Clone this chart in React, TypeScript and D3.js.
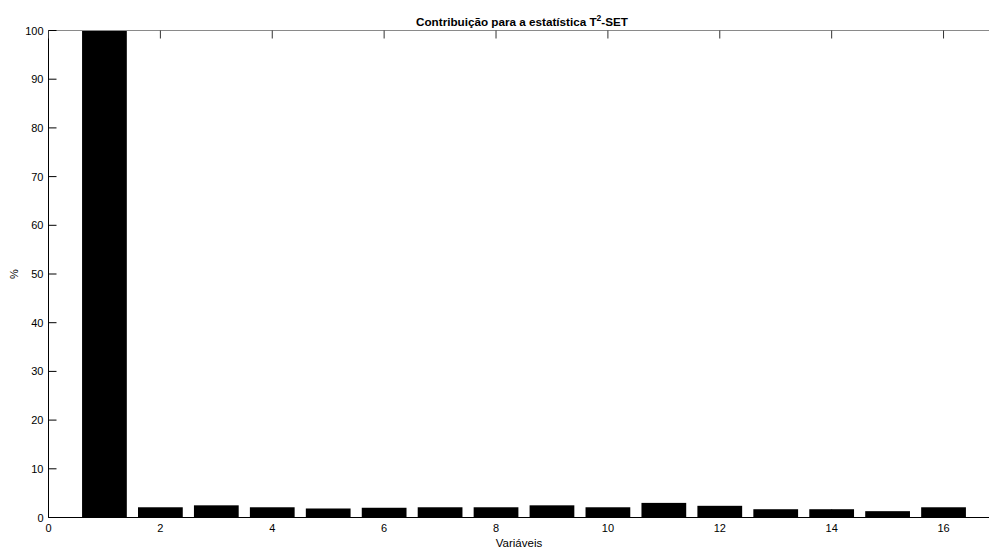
import React from "react";
import * as d3 from "d3";

// Percentage contribution of each variable to the T²-SET statistic
const variables = [1, 2, 3, 4, 5, 6, 7, 8, 9, 10, 11, 12, 13, 14, 15, 16];
const contributions = [100, 2.1, 2.5, 2.1, 1.85, 2.0, 2.1, 2.1, 2.5, 2.1, 3.0, 2.4, 1.7, 1.7, 1.3, 2.1];
const xTicks = [0, 2, 4, 6, 8, 10, 12, 14, 16];
const yTicks = [0, 10, 20, 30, 40, 50, 60, 70, 80, 90, 100];

const W = 989;
const H = 549;
const left = 48.5;
const top = 30.5;
const bottom = 517.5;
const font = "Arial, 'Liberation Sans', Helvetica, sans-serif";

export default function App() {
  const x = d3.scaleLinear().domain([0, 17]).range([left, left + 17 * 55.94]);
  const y = d3.scaleLinear().domain([0, 100]).range([bottom, top]);
  const barW = x(0.8) - x(0);
  const tickLen = 8;

  return (
    <svg
      width={W}
      height={H}
      style={{ position: "absolute", left: 0, top: 0, background: "#fff", overflow: "hidden" }}
      fontFamily={font}
    >
      <rect x={0} y={0} width={W} height={H} fill="#fff" />
      {/* bars */}
      {variables.map((v, i) => (
        <rect
          key={v}
          x={x(v) - barW / 2}
          y={y(contributions[i])}
          width={barW}
          height={y(0) - y(contributions[i])}
          fill="#000"
        />
      ))}
      {/* frame */}
      <line x1={left} x2={W} y1={top} y2={top} stroke="#8a8a8a" strokeWidth={1} />
      <line x1={left} x2={W} y1={bottom} y2={bottom} stroke="#000" strokeWidth={1} />
      <line x1={left} x2={left} y1={top} y2={bottom} stroke="#000" strokeWidth={1} />
      {/* y ticks */}
      {yTicks.map((t) => (
        <g key={"y" + t}>
          <line x1={left} x2={left + tickLen} y1={y(t)} y2={y(t)} stroke="#000" />
          <text
            x={left - 5}
            y={y(t)}
            textAnchor="end"
            dominantBaseline="central"
            fontSize={11}
            fill="#000"
          >
            {t}
          </text>
        </g>
      ))}
      {/* x ticks */}
      {xTicks.map((t) => (
        <g key={"x" + t}>
          <line x1={x(t)} x2={x(t)} y1={bottom} y2={bottom - tickLen} stroke="#000" />
          <line x1={x(t)} x2={x(t)} y1={top} y2={top + tickLen} stroke="#333" />
          <text x={x(t)} y={532} textAnchor="middle" fontSize={11} fill="#000">
            {t}
          </text>
        </g>
      ))}
      {/* axis labels */}
      <text x={519} y={547} textAnchor="middle" fontSize={11.5} fill="#000">
        Variáveis
      </text>
      <text
        transform={`translate(18, 274) rotate(-90)`}
        textAnchor="middle"
        fontSize={11}
        fill="#000"
      >
        %
      </text>
      {/* title */}
      <text x={522} y={26} textAnchor="middle" fontSize={11.7} fontWeight="bold" fill="#000">
        Contribuição para a estatística T
        <tspan dy={-5} fontSize={8.5}>2</tspan>
        <tspan dy={5}>-SET</tspan>
      </text>
    </svg>
  );
}
